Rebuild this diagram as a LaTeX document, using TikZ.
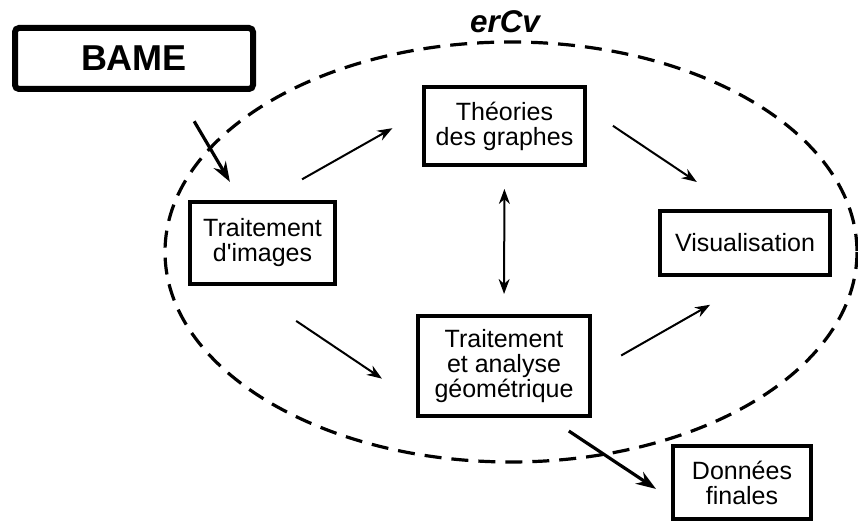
\documentclass[tikz,border=0pt]{standalone}
\usepackage{fontspec}
\setmainfont{Liberation Sans}
\usetikzlibrary{arrows.meta}
\tikzset{
  box/.style={draw,line width=2pt,align=center,inner sep=0pt,font=\fontsize{12.5}{12.5}\selectfont},
  flow/.style={line width=1pt,-{Stealth[length=7.5pt,width=5.5pt]}},
  bigflow/.style={line width=1.6pt,-{Stealth[length=10pt,width=7pt]}},
}

\begin{document}
\begin{tikzpicture}[x=0.5pt,y=-0.5pt]
  \useasboundingbox (0,0) rectangle (858,522);
  % dashed frame of erCv
  \draw[line width=1.6pt,dash pattern=on 8.5pt off 5pt] (511,252) ellipse [x radius=346,y radius=210];
  \node[font=\fontsize{15.7}{16}\selectfont\bfseries\itshape] (ercv) at (505,22) {erCv};

  \node[box,line width=3pt,rounded corners=2pt,minimum width=119pt,minimum height=30.5pt,
        font=\fontsize{18}{18}\selectfont\bfseries] (bame) at (134,58.5) {BAME};
  \node[box,minimum width=72.5pt,minimum height=41pt] (ti) at (262.5,243) {Traitement\\d\textquotesingle images};
  \node[box,minimum width=80.5pt,minimum height=39pt] (th) at (504.5,126) {Théories\\des graphes};
  \node[box,minimum width=85pt,minimum height=32pt] (vis) at (745,243) {Visualisation};
  \node[box,minimum width=86pt,minimum height=50pt] (ta) at (504,366) {Traitement\\et analyse\\géométrique};
  \node[box,minimum width=69pt,minimum height=36.5pt] (df) at (742,482.5) {Données\\finales};

  \draw[bigflow,shorten <=17pt,shorten >=10.5pt] (bame.-38) -- (ti.117);
  \foreach \a/\b/\s/\e in {ti.86/th.170/21/17,th.12/vis.103/15.6/24.3,ti.247/ta.202/31.3/20.5,ta.-4/vis.-68/16.8/28}
    \draw[flow,shorten <=\s pt,shorten >=\e pt] (\a) -- (\b);
  \draw[flow,{Stealth[length=7.5pt,width=5.5pt]}-{Stealth[length=7.5pt,width=5.5pt]},
        shorten <=11pt,shorten >=10pt] (th.south) -- (ta.north);
  \draw[bigflow,shorten <=11.8pt,shorten >=9pt] (ta.-49) -- (df.193);
\end{tikzpicture}
\end{document}
